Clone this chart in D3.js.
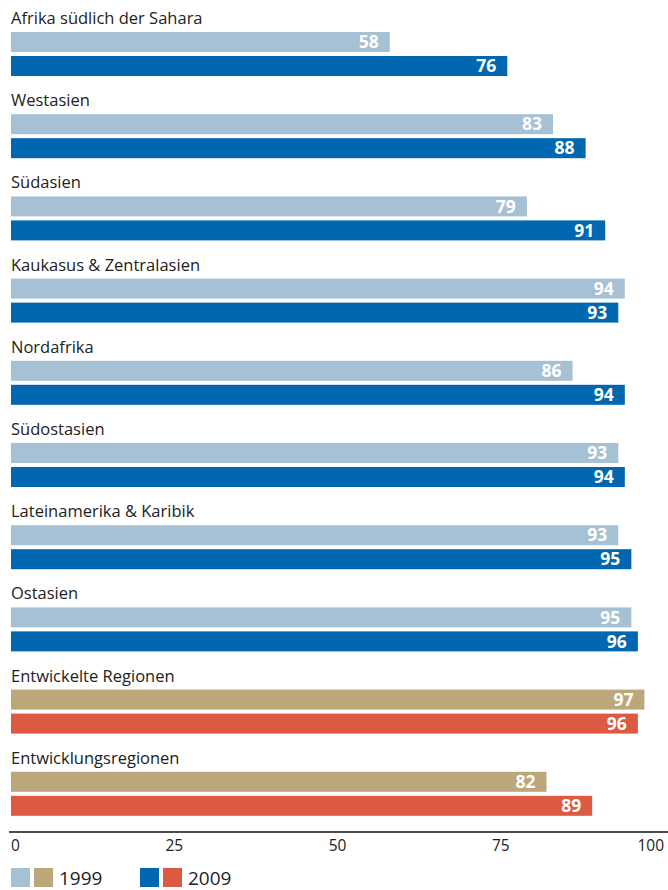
<!DOCTYPE html>
<html>
<head>
<meta charset="utf-8">
<script src="https://cdn.jsdelivr.net/npm/d3@7"></script>
<style>
  html, body { margin: 0; padding: 0; background: #fff; }
  svg { display: block; font-family: "Open Sans", "Liberation Sans", Arial, sans-serif; }
</style>
</head>
<body>
<svg id="chart" width="668" height="890"></svg>
<script>
// Regions and their values for 1999 and 2009
const regions = [
  "Afrika südlich der Sahara",
  "Westasien",
  "Südasien",
  "Kaukasus & Zentralasien",
  "Nordafrika",
  "Südostasien",
  "Lateinamerika & Karibik",
  "Ostasien",
  "Entwickelte Regionen",
  "Entwicklungsregionen"
];
const values1999 = [58, 83, 79, 94, 86, 93, 93, 95, 97, 82];
const values2009 = [76, 88, 91, 93, 94, 94, 95, 96, 96, 89];
// Aggregate groups use a different palette
const isAggregate = [false, false, false, false, false, false, false, false, true, true];
const axisTicks = [0, 25, 50, 75, 100];
const legendYears = ["1999", "2009"];

const colors = {
  light: "#a7c1d4",
  dark: "#0067b0",
  tan: "#bba77a",
  red: "#dd5a42"
};

const svg = d3.select("#chart");

const x = d3.scaleLinear().domain([0, 100]).range([11, 664]);
const y = d3.scaleBand().domain(regions).range([10, 832]).paddingInner(0).paddingOuter(0);

const barH = 20;
const gap = 4;
const titleOffset = 22;

const groups = svg.selectAll("g.region")
  .data(regions.map((r, i) => ({ name: r, v1: values1999[i], v2: values2009[i], agg: isAggregate[i] })))
  .join("g")
  .attr("class", "region")
  .attr("transform", d => `translate(0,${y(d.name)})`);

groups.append("text")
  .attr("x", x(0))
  .attr("y", 14)
  .attr("font-size", 16.5)
  .attr("fill", "#222")
  .text(d => d.name);

function drawBar(sel, key, offsetY, colorFn) {
  sel.append("rect")
    .attr("x", x(0))
    .attr("y", titleOffset + offsetY)
    .attr("width", d => x(d[key]) - x(0))
    .attr("height", barH)
    .attr("fill", colorFn);
  sel.append("text")
    .attr("x", d => x(d[key]) - 11)
    .attr("y", titleOffset + offsetY + barH / 2)
    .attr("dy", "0.36em")
    .attr("text-anchor", "end")
    .attr("font-size", 17.5)
    .attr("font-weight", "bold")
    .attr("fill", "#fff")
    .text(d => d[key]);
}

drawBar(groups, "v1", 0, d => d.agg ? colors.tan : colors.light);
drawBar(groups, "v2", barH + gap, d => d.agg ? colors.red : colors.dark);

// Axis
const axisY = 832;
svg.append("line")
  .attr("x1", 9).attr("x2", 668)
  .attr("y1", axisY).attr("y2", axisY)
  .attr("stroke", "#111").attr("stroke-width", 1.5);

svg.selectAll("text.tick")
  .data(axisTicks)
  .join("text")
  .attr("class", "tick")
  .attr("x", d => x(d))
  .attr("y", axisY + 19)
  .attr("text-anchor", (d, i) => i === 0 ? "start" : (i === axisTicks.length - 1 ? "end" : "middle"))
  .attr("font-size", 15.5)
  .attr("fill", "#222")
  .text(d => d);

// Legend
const legendY = 868;
const legendItems = [
  { label: legendYears[0], c: [colors.light, colors.tan], x: 11 },
  { label: legendYears[1], c: [colors.dark, colors.red], x: 140 }
];
const lg = svg.selectAll("g.legend")
  .data(legendItems)
  .join("g")
  .attr("class", "legend")
  .attr("transform", d => `translate(${d.x},${legendY})`);
lg.selectAll("rect")
  .data(d => d.c)
  .join("rect")
  .attr("x", (d, i) => i * 23)
  .attr("y", 0)
  .attr("width", 19)
  .attr("height", 19)
  .attr("fill", d => d);
lg.append("text")
  .attr("x", 48)
  .attr("y", 17)
  .attr("font-size", 19)
  .attr("fill", "#222")
  .text(d => d.label);
</script>
</body>
</html>
